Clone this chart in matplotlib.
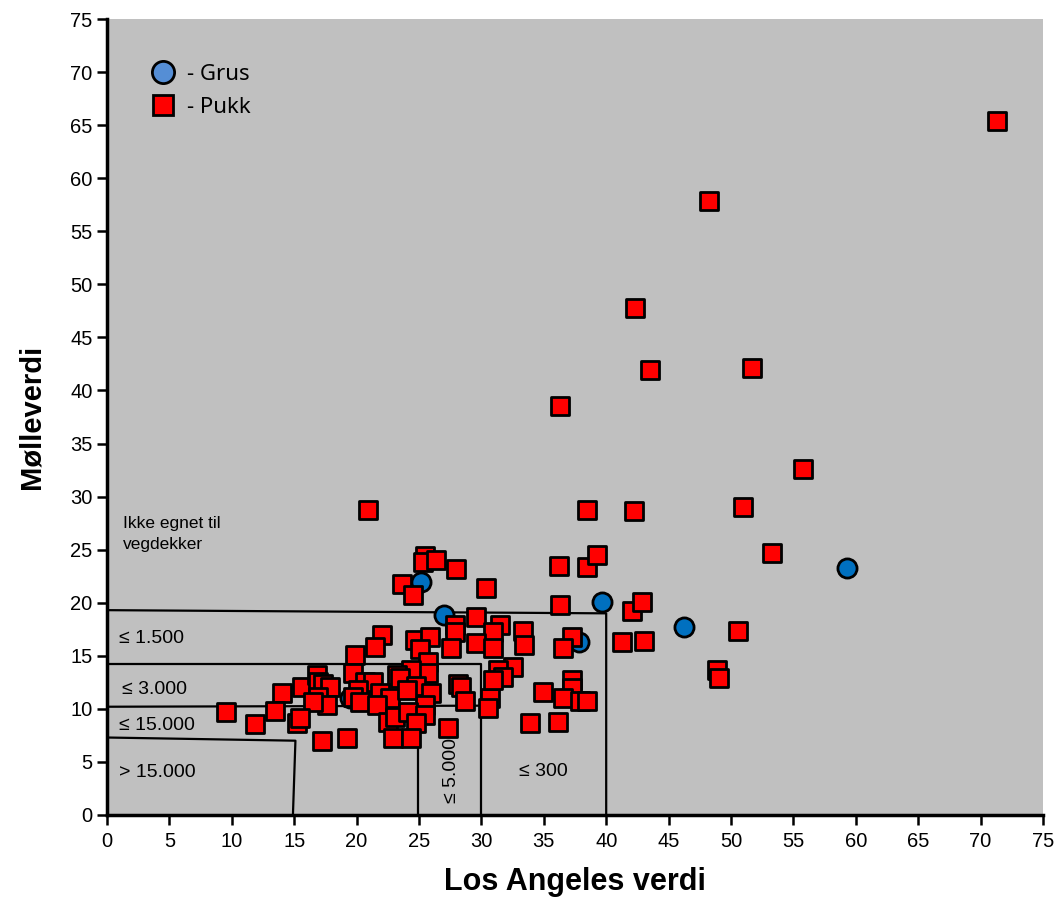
import matplotlib
matplotlib.use("Agg")
import matplotlib.pyplot as plt
from matplotlib.lines import Line2D

plt.rcParams["font.family"] = ["Liberation Sans", "DejaVu Sans"]

# Pukk (red squares)
pukk_x = [71.3, 48.2, 42.3, 43.5, 51.7, 36.3, 55.8, 38.5, 42.2, 51.0, 53.3, 20.9,
          25.5, 25.3, 26.4, 28.0, 23.6, 24.5, 30.4, 36.2, 38.5, 39.3,
          36.3, 42.1, 42.9, 29.6, 27.9, 27.9, 31.5, 30.9, 33.3,
          22.0, 21.5, 24.7, 25.9, 25.1, 27.6, 29.6, 30.9, 33.4, 37.3, 36.5, 41.3, 43.0, 50.6, 19.9,
          25.7, 25.7, 24.4, 19.7, 23.2, 32.5, 31.3, 31.7,
          20.7, 21.3, 21.9, 23.5, 24.8, 26.0, 25.5, 22.7, 20.1, 19.7, 20.3, 21.6, 28.1, 28.4, 28.7,
          30.7, 30.5, 30.9, 34.9, 37.3, 37.3, 36.5, 37.9, 38.5, 48.9, 49.0, 14.0, 15.6, 16.8, 16.9,
          17.3, 17.9, 16.9, 17.6, 16.5, 24.0,
          13.5, 9.5, 11.9, 15.2, 15.5, 17.2, 19.2, 22.5, 23.1, 24.1, 25.5, 24.8, 22.9, 24.4, 27.3,
          33.9, 36.1]
pukk_y = [65.4, 57.9, 47.8, 41.9, 42.1, 38.5, 32.6, 28.7, 28.6, 29.0, 24.7, 28.7,
          24.4, 23.8, 24.0, 23.2, 21.8, 20.7, 21.4, 23.5, 23.4, 24.5,
          19.8, 19.2, 20.1, 18.7, 17.9, 17.2, 17.9, 17.2, 17.3,
          17.0, 15.8, 16.5, 16.8, 15.6, 15.7, 16.2, 15.7, 16.0, 16.8, 15.7, 16.3, 16.4, 17.3, 15.1,
          14.4, 13.4, 13.7, 13.4, 13.2, 13.9, 13.7, 13.0,
          12.5, 12.5, 11.5, 12.9, 12.2, 11.5, 10.4, 11.0, 11.8, 11.1, 10.6, 10.4, 12.3, 12.1, 10.7,
          11.0, 10.1, 12.7, 11.6, 12.7, 12.0, 11.0, 10.7, 10.7, 13.7, 12.9, 11.5, 12.1, 13.2, 12.5,
          12.3, 12.1, 11.1, 10.4, 10.6, 11.8,
          9.8, 9.7, 8.6, 8.7, 9.1, 7.0, 7.3, 8.8, 9.2, 9.7, 9.4, 8.7, 7.3, 7.3, 8.2,
          8.7, 8.8]

# Grus (blue circles)
grus_x = [59.3, 46.2, 39.7, 37.8, 25.2, 27.0, 19.5]
grus_y = [23.3, 17.7, 20.1, 16.3, 22.0, 18.8, 11.0]

# class boundary lines (x list, y list)
boundaries = [
    ([0, 40.0, 40.0], [19.3, 19.0, 0]),
    ([0, 30.0, 30.0], [14.2, 14.2, 0]),
    ([0, 30.0], [10.2, 10.3]),
    ([24.9, 24.9], [10.3, 0]),
    ([0, 15.1, 14.9], [7.3, 7.0, 0]),
]

class_labels = ["≤ 1.500", "≤ 3.000", "≤ 15.000", "> 15.000", "≤ 300"]
class_label_x = [1.0, 1.2, 1.0, 1.0, 33.0]
class_label_y = [16.6, 11.8, 8.4, 4.0, 4.1]

ticks = list(range(0, 80, 5))

fig = plt.figure(figsize=(10.56, 9.11), dpi=100)
ax = fig.add_axes([0.1013, 0.1054, 0.8864, 0.8737])
ax.set_facecolor("#C0C0C0")

for bx, by in boundaries:
    ax.plot(bx, by, color="black", lw=1.6, zorder=2)

ax.scatter(grus_x, grus_y, s=190, marker="o", facecolor="#0070C0",
           edgecolor="black", linewidths=2.0, zorder=3)
ax.scatter(pukk_x, pukk_y, s=150, marker="s", facecolor="#FF0000",
           edgecolor="black", linewidths=2.0, zorder=4)

ax.text(1.3, 26.5, "Ikke egnet til\nvegdekker", fontsize=12.5, ha="left", va="center",
        linespacing=1.5, zorder=5)
for lab, tx, ty in zip(class_labels, class_label_x, class_label_y):
    ax.text(tx, ty, lab, fontsize=14, ha="left", va="center", zorder=5)
ax.text(27.6, 4.2, "≤ 5.000", fontsize=14, rotation=90, ha="center", va="center", zorder=5)

handles = [
    Line2D([], [], ls="none", marker="o", markersize=16, markerfacecolor="#558ED5",
           markeredgecolor="black", markeredgewidth=2),
    Line2D([], [], ls="none", marker="s", markersize=14, markerfacecolor="#FF0000",
           markeredgecolor="black", markeredgewidth=2),
]
ax.legend(handles, ["- Grus", "- Pukk"], loc="upper left", bbox_to_anchor=(0.034, 0.955),
          frameon=False, prop={"family": "Noto Sans", "size": 16},
          handlelength=1.4, handletextpad=0.35, labelspacing=0.55, borderaxespad=0)

ax.set_xlim(0, 75)
ax.set_ylim(0, 75)
ax.set_xticks(ticks)
ax.set_yticks(ticks)
ax.tick_params(axis="both", direction="out", length=7, width=1.8, labelsize=14.5, color="black")
ax.tick_params(axis="x", pad=5)
for side in ["top", "right"]:
    ax.spines[side].set_visible(False)
for side in ["left", "bottom"]:
    ax.spines[side].set_linewidth(2.5)

ax.set_xlabel("Los Angeles verdi", fontsize=22, fontweight="bold", labelpad=12)
ax.set_ylabel("Mølleverdi", fontsize=21, fontweight="bold", labelpad=18)

fig.savefig("out.png", dpi=100)
